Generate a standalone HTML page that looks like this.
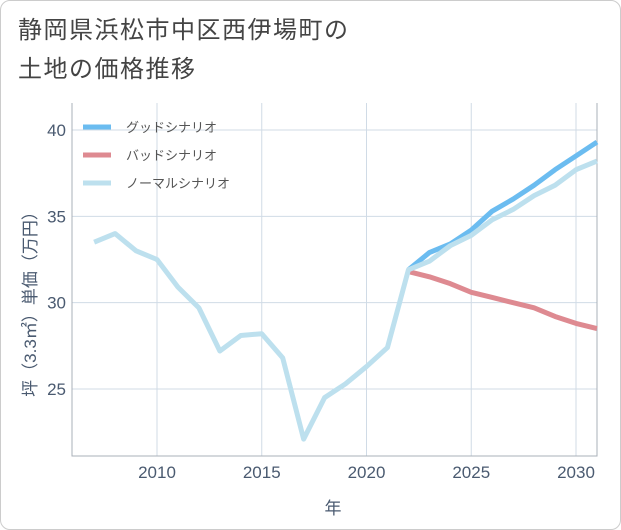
<!DOCTYPE html>
<html><head><meta charset="utf-8"><style>
body{margin:0;background:#fff;font-family:"Liberation Sans","Noto Sans CJK JP",sans-serif;}
#card{position:absolute;left:0;top:0;width:619px;height:528px;border:1px solid #ccc;border-radius:10px;background:#fff;}
#title{position:absolute;left:18px;top:11px;font-size:24px;letter-spacing:1.5px;line-height:39px;color:#444;}
</style></head><body>
<div id="card"></div>
<div id="title">静岡県浜松市中区西伊場町の<br>土地の価格推移</div>
<svg id="chart" width="621" height="530" style="position:absolute;left:0;top:0"></svg>
<script>
const years=[2007,2008,2009,2010,2011,2012,2013,2014,2015,2016,2017,2018,2019,2020,2021,2022,2023,2024,2025,2026,2027,2028,2029,2030,2031];
const normalVals=[33.5,34.0,33.0,32.5,30.9,29.7,27.2,28.1,28.2,26.8,22.1,24.5,25.3,26.3,27.4,31.9,32.4,33.3,33.9,34.8,35.4,36.2,36.8,37.7,38.2];
const futureYears=[2022,2023,2024,2025,2026,2027,2028,2029,2030,2031];
const goodVals=[31.9,32.9,33.4,34.2,35.3,36.0,36.8,37.7,38.5,39.3];
const badVals=[31.8,31.5,31.1,30.6,30.3,30.0,29.7,29.2,28.8,28.5];
const xTicks=[2010,2015,2020,2025,2030];
const yTicks=[25,30,35,40];
const NS='http://www.w3.org/2000/svg';
const svg=document.getElementById('chart');
const X0=72,X1=597,Y0=103,Y1=456;
const xs=y=>157+(y-2010)*(576-157)/20;
const ys=v=>130+(40-v)*(389-130)/15;
function mk(t,a){const e=document.createElementNS(NS,t);for(const k in a)e.setAttribute(k,a[k]);svg.appendChild(e);return e;}
for(const t of xTicks){const g=mk('line',{x1:xs(t),x2:xs(t),y1:Y0,y2:Y1,stroke:'#d0dbe6','stroke-width':1});

const l=mk('text',{x:xs(t),y:478,'text-anchor':'middle','font-size':17,fill:'#4a5a70'});l.textContent=t;
}
for(const t of yTicks){const g=mk('line',{x1:X0,x2:X1,y1:ys(t),y2:ys(t),stroke:'#d0dbe6','stroke-width':1});

const l=mk('text',{x:66,y:ys(t)+6,'text-anchor':'end','font-size':17,fill:'#4a5a70'});l.textContent=t;
}
const ax=mk('path',{d:`M${X0},${Y0}V${Y1}H${X1}V${Y0}`,fill:'none',stroke:'#aab0b8','stroke-width':1});

function line(xv,yv,col,name){const p=mk('polyline',{points:xv.map((x,i)=>xs(x)+','+ys(yv[i])).join(' '),fill:'none',stroke:col,'stroke-width':5,'stroke-linejoin':'round'});
}
line(futureYears,goodVals,'#6bbcf0','good-scenario-line');
line(futureYears,badVals,'#de8a91','bad-scenario-line');
line(years,normalVals,'#bde0ee','normal-scenario-line');
const leg=[['グッドシナリオ','#6bbcf0'],['バッドシナリオ','#de8a91'],['ノーマルシナリオ','#bde0ee']];
leg.forEach((d,i)=>{const y=127+i*28;
const s=mk('line',{x1:83,x2:111,y1:y,y2:y,stroke:d[1],'stroke-width':5});
const t=mk('text',{x:126,y:y+5,'font-size':13,fill:'#555'});t.textContent=d[0];});
const xt=mk('text',{x:333,y:514,'text-anchor':'middle','font-size':17,fill:'#4a5a70'});xt.textContent='年';

const yt=mk('text',{x:0,y:0,'text-anchor':'middle','font-size':17,fill:'#4a5a70',transform:'translate(36,300) rotate(-90)'});yt.textContent='坪（3.3㎡）単価（万円）';

</script>
</body></html>
